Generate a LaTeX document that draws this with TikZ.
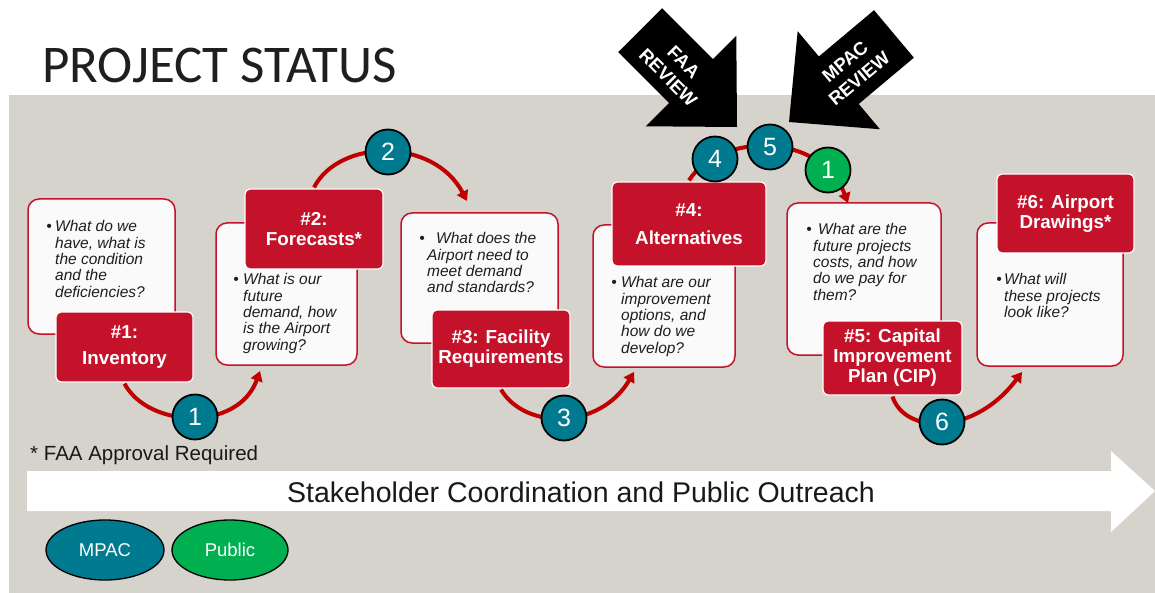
\documentclass[tikz,border=0pt]{standalone}
\usepackage{fontspec}
\setmainfont{Liberation Sans}
\newfontfamily\titlefont{Carlito}
\usetikzlibrary{arrows.meta,calc,shapes.geometric}
\definecolor{bggray}{RGB}{214,210,204}
\definecolor{boxred}{RGB}{196,18,42}
\definecolor{arcred}{RGB}{192,0,0}
\definecolor{numteal}{RGB}{0,122,143}
\definecolor{numgreen}{RGB}{0,176,80}
\definecolor{boxwhite}{RGB}{250,250,250}
\definecolor{qtextcol}{RGB}{30,30,30}
\begin{document}
\begin{tikzpicture}[x=1pt,y=-1pt,
  wbox/.style={draw=boxred, line width=1.5pt, fill=boxwhite, rounded corners=11pt, inner sep=0pt},
  rbox/.style={draw=white, line width=1.2pt, fill=boxred, rounded corners=5pt, text=white,
     font=\bfseries\fontsize{18.8}{20}\selectfont, align=center, inner sep=0pt},
  qtext/.style={anchor=north west, inner sep=0pt, align=left, text=qtextcol,
     font=\itshape\fontsize{15.5}{16.3}\selectfont},
  num/.style={circle, draw=black, line width=1.8pt, fill=numteal, minimum size=45pt,
     inner sep=0pt, text=white, font=\fontsize{25}{25}\selectfont},
  flow/.style={draw=arcred, line width=4pt, -{Triangle[length=10pt,width=12pt]}},
  blackarrow/.style={fill=black},
  revtext/.style={text=white, font=\bfseries\fontsize{18.5}{22}\selectfont, align=center, inner sep=0pt},
  legend/.style={ellipse, draw=black, line width=1.3pt, minimum width=118pt, minimum height=60pt,
     text=white, font=\fontsize{18.5}{19}\selectfont, inner sep=0pt}
]
\useasboundingbox (0,0) rectangle (1155,593);
\fill[white] (0,0) rectangle (1155,593);
\fill[bggray] (9,95) rectangle (1155,593);

% title
\node[anchor=base west, inner sep=0pt, font=\titlefont\fontsize{53}{53}\selectfont, text=black!88] (title) at (42,83) {PROJECT STATUS};

% review arrows
\begin{scope}[shift={(737,127)}, rotate=-45]
  \fill[blackarrow] (0,0) -- (-65,64) -- (-65,31) -- (-137,31) -- (-137,-31) -- (-65,-31) -- (-65,-64) -- cycle;
\end{scope}
\node[revtext, rotate=-45] (faa) at (676,70) {FAA\\REVIEW};
\begin{scope}[shift={(789,122)}, rotate=-140]
  \fill[blackarrow] (0,0) -- (-65,64) -- (-65,31) -- (-137,31) -- (-137,-31) -- (-65,-31) -- (-65,-64) -- cycle;
\end{scope}
\node[revtext, rotate=40] (mpacrev) at (852,70) {MPAC\\REVIEW};

% white boxes
\node[wbox, minimum width=147pt, minimum height=135pt] (w1) at (101.5,266.5) {};
\node[wbox, minimum width=141pt, minimum height=142pt] (w2) at (286.5,294) {};
\node[wbox, minimum width=157pt, minimum height=130pt] (w3) at (479.5,278) {};
\node[wbox, minimum width=142pt, minimum height=142pt] (w4) at (664,296) {};
\node[wbox, minimum width=154pt, minimum height=152pt] (w5) at (864,279) {};
\node[wbox, minimum width=146pt, minimum height=143pt] (w6) at (1050,294.5) {};

% question texts
\node[qtext] (q1) at (55,220.5) {\hspace*{0pt}\llap{\textbullet\hspace{3.3pt}}What do we\\have, what is\\the condition\\and the\\deficiencies?};
\node[qtext] (q2) at (243,273.5) {\hspace*{0pt}\llap{\textbullet\hspace{4.3pt}}What is our\\future\\demand, how\\is the Airport\\growing?};
\node[qtext] (q3) at (427,232.5) {\hspace*{9pt}\llap{\textbullet\hspace{11.3pt}}What does the\\Airport need to\\meet demand\\and standards?};
\node[qtext] (q4) at (621,276.5) {\hspace*{0pt}\llap{\textbullet\hspace{4.3pt}}What are our\\improvement\\options, and\\how do we\\develop?};
\node[qtext] (q5) at (813,223.5) {\hspace*{5pt}\llap{\textbullet\hspace{6.3pt}}What are the\\future projects\\costs, and how\\do we pay for\\them?};
\node[qtext] (q6) at (1004,273.5) {\hspace*{0pt}\llap{\textbullet\hspace{2.3pt}}What will\\these projects\\look like?};

% arrow end points
\coordinate (e1) at (260,371);
\coordinate (e2) at (467,201);
\coordinate (e3) at (634,372);
\coordinate (e4) at (848,203);
\coordinate (e6) at (1022,372);

% red label boxes
\node[rbox, minimum width=137pt, minimum height=70pt] (r1) at (124.5,347) {\#1:\\[6pt]Inventory};
\node[rbox, minimum width=138pt, minimum height=80pt] (r2) at (314,229) {\#2:\\Forecasts*};
\node[rbox, minimum width=138pt, minimum height=78pt] (r3) at (501,349) {\#3: Facility\\Requirements};
\node[rbox, minimum width=154pt, minimum height=84pt] (r4) at (689,224) {\#4:\\[8pt]Alternatives};
\node[rbox, minimum width=139pt, minimum height=74pt] (r5) at (892.5,358) {\#5: Capital\\Improvement\\Plan (CIP)};
\node[rbox, minimum width=137pt, minimum height=79pt] (r6) at (1065.5,213.5) {\#6: Airport\\Drawings*};

% flow arcs
\draw[flow] ([yshift=-1pt]r1.south) .. controls (148,428) and (238,432) .. (e1);
\draw[flow] ([yshift=1pt]r2.north) .. controls (340,138) and (434,138) .. (e2);
\draw[flow] ([yshift=-1pt]r3.south) .. controls (525,430) and (600,430) .. (e3);
\draw[flow] ([yshift=1pt]r4.north) .. controls (720,132) and (821,132) .. (e4);
\draw[flow] ([yshift=-1pt]r5.south) .. controls (905,435) and (975,435) .. (e6);

% number circles
\node[num] (c1) at (195,417) {1};
\node[num] (c2) at (388,152) {2};
\node[num] (c3) at (564,418) {3};
\node[num] (c4) at (715,159) {4};
\node[num] (c5) at (770,147) {5};
\node[num, fill=numgreen] (cg) at (828,170) {1};
\node[num] (c6) at (942,422) {6};

% note
\node[anchor=base west, inner sep=0pt, font=\fontsize{20.5}{20.5}\selectfont, text=black!90] (note) at (30,460) {* FAA Approval Required};

% big white arrow
\fill[white] (27,471) -- (1111,471) -- (1111,451) -- (1155,491) -- (1111,532) -- (1111,511) -- (27,511) -- cycle;
\node[font=\fontsize{28.5}{28.5}\selectfont, text=black!90, inner sep=0pt] (outreach) at (581,492) {Stakeholder Coordination and Public Outreach};

% legend
\node[legend, fill=numteal] (mpac) at (105,550) {MPAC};
\node[legend, fill=numgreen, minimum width=116pt] (public) at (230,550) {Public};
\end{tikzpicture}
\end{document}
